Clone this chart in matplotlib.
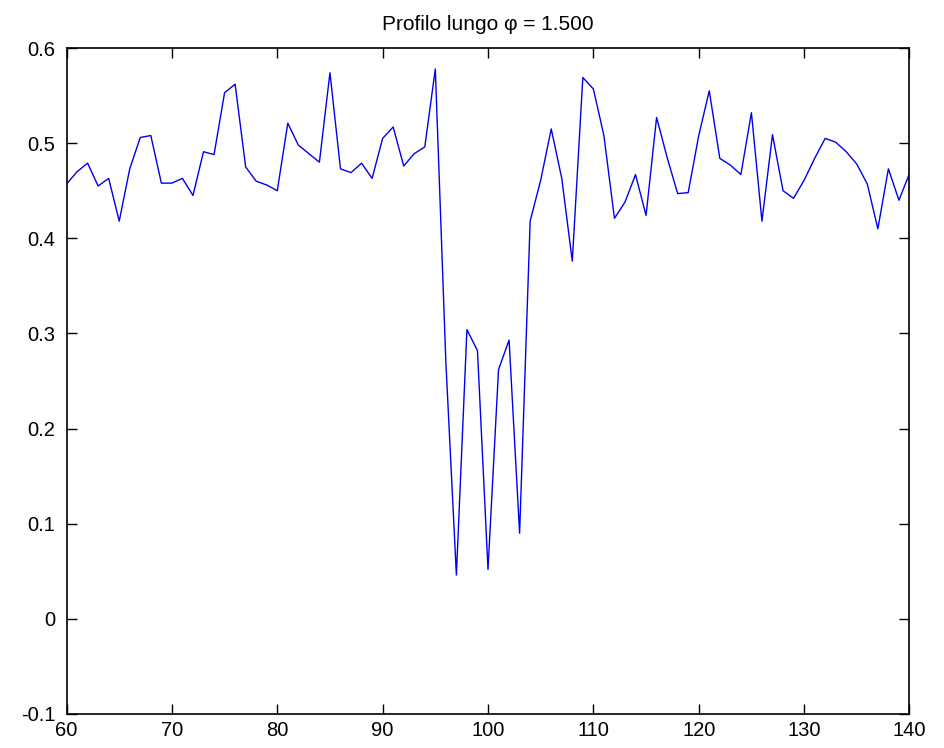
import matplotlib; matplotlib.use('Agg')
import matplotlib.pyplot as plt
import numpy as np

plt.rcParams['font.family'] = ['Liberation Sans', 'DejaVu Sans']

# profile samples (one per integer position)
positions = list(range(60, 141))
profile = [
    0.457, 0.470, 0.479, 0.455, 0.463, 0.418, 0.473, 0.506, 0.508, 0.458,
    0.458, 0.463, 0.445, 0.491, 0.488, 0.553, 0.562, 0.475, 0.460, 0.456,
    0.450, 0.521, 0.498, 0.489, 0.480, 0.574, 0.473, 0.469, 0.479, 0.463,
    0.505, 0.517, 0.476, 0.489, 0.496, 0.578, 0.270, 0.046, 0.304, 0.282,
    0.052, 0.262, 0.293, 0.090, 0.418, 0.461, 0.515, 0.463, 0.376, 0.569,
    0.557, 0.508, 0.421, 0.438, 0.467, 0.424, 0.527, 0.485, 0.447, 0.448,
    0.508, 0.555, 0.484, 0.477, 0.467, 0.532, 0.418, 0.509, 0.450, 0.442,
    0.461, 0.484, 0.505, 0.501, 0.491, 0.478, 0.457, 0.410, 0.473, 0.440,
    0.468,
]
x_ticks = [60, 70, 80, 90, 100, 110, 120, 130, 140]
y_ticks = [-0.1, 0, 0.1, 0.2, 0.3, 0.4, 0.5, 0.6]
y_tick_labels = ['-0.1', '0', '0.1', '0.2', '0.3', '0.4', '0.5', '0.6']
title = 'Profilo lungo φ = 1.500'

fig = plt.figure(figsize=(9.45, 7.48), dpi=100)
ax = fig.add_axes([0.0704, 0.0455, 0.892, 0.8903])

ax.plot(positions, profile, color='#0000ee', linewidth=1.0)

ax.set_xlim(60, 140)
ax.set_ylim(-0.1, 0.6)
ax.set_xticks(x_ticks)
ax.set_yticks(y_ticks)
ax.set_yticklabels(y_tick_labels)
ax.tick_params(direction='in', length=7, width=1, top=True, right=True,
               labelsize=14.5, colors='black')
ax.tick_params(axis='x', pad=5)
ax.tick_params(axis='y', pad=8)
for s in ax.spines.values():
    s.set_linewidth(1.2)
ax.set_title(title, fontsize=15, pad=13)

plt.savefig('out.png', dpi=100)
plt.close()
